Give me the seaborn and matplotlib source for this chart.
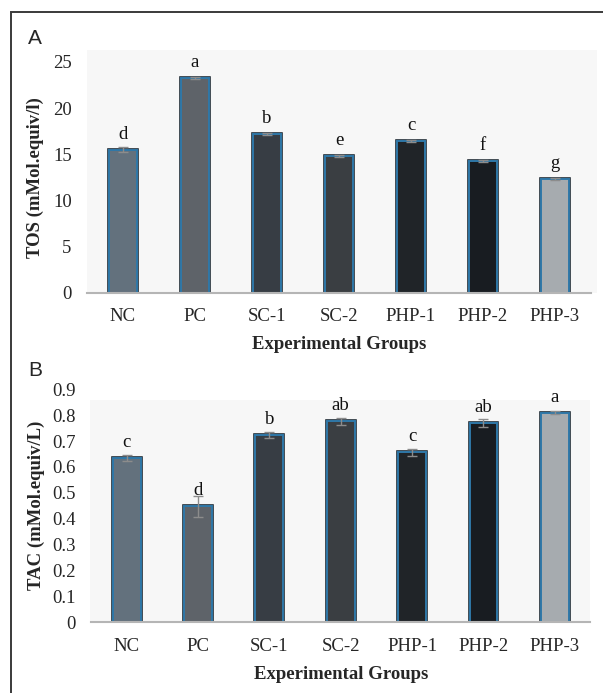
import matplotlib
matplotlib.use("Agg")
import matplotlib.pyplot as plt
import matplotlib.patheffects as pe
from matplotlib.patches import Rectangle
import numpy as np
import pandas as pd
import seaborn as sns

# ---------------- data ----------------
groups = ["NC", "PC", "SC-1", "SC-2", "PHP-1", "PHP-2", "PHP-3"]
tos_values = [15.5, 23.3, 17.2, 14.8, 16.4, 14.3, 12.3]
tos_errors = [0.3, 0.1, 0.1, 0.1, 0.1, 0.1, 0.1]
tos_letters = ["d", "a", "b", "e", "c", "f", "g"]
tos_ticks = [0, 5, 10, 15, 20, 25]

tac_values = [0.636, 0.448, 0.723, 0.776, 0.656, 0.771, 0.809]
tac_errors = [0.012, 0.04, 0.012, 0.014, 0.014, 0.016, 0.006]
tac_letters = ["c", "d", "b", "ab", "c", "ab", "a"]
tac_ticks = [0, 0.1, 0.2, 0.3, 0.4, 0.5, 0.6, 0.7, 0.8, 0.9]
tac_ticklabels = ["0", "0.1", "0.2", "0.3", "0.4", "0.5", "0.6", "0.7", "0.8", "0.9"]

bar_colors = ["#5f7281", "#5c636b", "#353d46", "#383e44", "#1f2429", "#161c22", "#a4abb1"]

# ---------------- style ----------------
sns.set_style("white")
SERIF = ["Liberation Serif", "DejaVu Serif"]
SANS = ["Liberation Sans", "DejaVu Sans"]
plt.rcParams["font.family"] = SERIF

W, H = 603, 693
fig = plt.figure(figsize=(W / 100, H / 100), dpi=100)


def frac(l, t, r, b):
    return [l / W, 1 - b / H, (r - l) / W, (b - t) / H]


# outer frame
fig.patches.append(Rectangle((11 / W, -0.05), 1.2, (H - 12) / H + 0.05,
                             transform=fig.transFigure, fill=False,
                             edgecolor="#3a3a3a", linewidth=1.4, zorder=-2))
# light plot-area backgrounds
fig.patches.append(Rectangle((87 / W, 1 - 293 / H), (597 - 87) / W, (293 - 50) / H,
                             transform=fig.transFigure, facecolor="#f7f7f7",
                             edgecolor="none", zorder=-2))
fig.patches.append(Rectangle((90 / W, 1 - 622 / H), (590 - 90) / W, (622 - 400) / H,
                             transform=fig.transFigure, facecolor="#f7f7f7",
                             edgecolor="none", zorder=-2))

ax1 = fig.add_axes(frac(87, 62, 591, 292.7))
ax2 = fig.add_axes(frac(91, 389.3, 590.5, 622.3))
ax1.set_zorder(1)
ax2.set_zorder(1)


def draw(ax, values, errors, letters, ylim, ticks, ticklabels, ylabel):
    ax.set_facecolor("none")
    ax.patch.set_alpha(0)
    df = pd.DataFrame({"group": groups, "value": values})
    sns.barplot(data=df, x="group", y="value", hue="group", palette=bar_colors,
                legend=False, width=0.39, edgecolor="#2f78a8", linewidth=1.4,
                errorbar=None, ax=ax, zorder=2)
    for p in ax.patches:
        p.set_path_effects([pe.Stroke(linewidth=2.6, foreground="#1b2731"), pe.Normal()])
    x = np.arange(len(groups))
    ax.errorbar(x, values, yerr=errors, fmt="none", ecolor="#8c8c8c",
                elinewidth=1.0, capsize=3.5, capthick=1.0, zorder=3)
    for i, (v, l) in enumerate(zip(values, letters)):
        ax.annotate(l, (i, v), xytext=(0, 8), textcoords="offset points",
                    ha="center", va="baseline", fontsize=13.5, family=SERIF,
                    color="#111111", zorder=4)
    ax.set_ylim(*ylim)
    ax.set_xlim(-0.5, len(groups) - 0.5)
    ax.set_yticks(ticks)
    ax.set_yticklabels(ticklabels, fontsize=13.5, family=SERIF)
    ax.set_xticks(x)
    ax.set_xticklabels(groups, fontsize=13.5, family=SERIF)
    ax.tick_params(axis="y", length=0, pad=11)
    ax.tick_params(axis="x", length=0, pad=11)
    for s in ["top", "right", "left"]:
        ax.spines[s].set_visible(False)
    ax.spines["bottom"].set_color("#b5b5b5")
    ax.spines["bottom"].set_linewidth(1.5)
    ax.set_xlabel("Experimental Groups", fontsize=13.5, fontweight="bold",
                  family=SERIF, labelpad=8)
    ax.set_ylabel(ylabel, fontsize=13.5, fontweight="bold", family=SERIF, labelpad=6)


draw(ax1, tos_values, tos_errors, tos_letters, (0, 25), tos_ticks,
     [str(t) for t in tos_ticks], "TOS (mMol.equiv/l)")
draw(ax2, tac_values, tac_errors, tac_letters, (0, 0.9), tac_ticks,
     tac_ticklabels, "TAC (mMol.equiv/L)")

ax1.yaxis.set_label_coords((44 - 87) / (591 - 87), 0.5)
ax2.yaxis.set_label_coords((45 - 91) / (590.5 - 91), 0.5)

fig.text(35 / W, 1 - 38 / H, "A", family=SANS, fontsize=15, ha="center", va="center")
fig.text(35 / W, 1 - 371 / H, "B", family=SANS, fontsize=15, ha="center", va="center")

fig.savefig("out.png", dpi=100)
